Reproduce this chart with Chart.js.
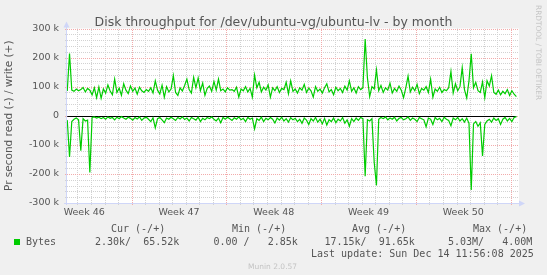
<!DOCTYPE html>
<html>
<head>
<meta charset="utf-8">
<script src="https://cdn.jsdelivr.net/npm/chart.js@4/dist/chart.umd.min.js"></script>
<style>
  html, body { margin: 0; padding: 0; background: #f0f0f0; }
  #wrap { position: relative; width: 547px; height: 275px; overflow: hidden; }
  canvas { position: absolute; left: 0; top: 0; }
  .t { position: absolute; white-space: pre; font-family: "DejaVu Sans Mono", monospace; font-size: 10px; line-height: 12px; color: #555; }
  .wm { position: absolute; white-space: pre; font-family: "DejaVu Sans", sans-serif; color: #c4c4c4; }
  #title { position: absolute; left: 0; top: 13.5px; width: 547px; text-align: center; font-family: "DejaVu Sans", sans-serif; font-size: 12.5px; line-height: 15px; color: #555; }
  #swatch { position: absolute; left: 14px; top: 239px; width: 6px; height: 6px; background: #00cc00; }
</style>
</head>
<body>
<div id="wrap">
  <canvas id="chart" width="547" height="275"></canvas>
  <div id="title">Disk throughput for /dev/ubuntu-vg/ubuntu-lv - by month</div>
  <div class="wm" style="left:543px; top:5px; font-size:7.4px; line-height:9px; transform:rotate(90deg); transform-origin:0 0;">RRDTOOL / TOBI OETIKER</div>
  <div class="t" style="left:111px; top:223px;">Cur (-/+)</div>
  <div class="t" style="left:232px; top:223px;">Min (-/+)</div>
  <div class="t" style="left:352px; top:223px;">Avg (-/+)</div>
  <div class="t" style="left:473px; top:223px;">Max (-/+)</div>
  <div id="swatch"></div>
  <div class="t" style="left:26px; top:236px;">Bytes</div>
  <div class="t" style="left:95px; top:236px;">2.30k/  65.52k</div>
  <div class="t" style="left:213.5px; top:236px;">0.00 /   2.85k</div>
  <div class="t" style="left:324.5px; top:236px;">17.15k/  91.65k</div>
  <div class="t" style="left:448px; top:236px;">5.03M/   4.00M</div>
  <div class="t" style="left:311px; top:248px;">Last update: Sun Dec 14 11:56:08 2025</div>
  <div class="wm" style="left:248px; top:262px; font-size:7.5px; line-height:9px;">Munin 2.0.57</div>
</div>
<script>
// Time axis is in days, day 0 = Sun Nov 16 00:00 (start of week 47)
const xMin = -4.77;
const xMax = 28.61;
const sampleStart = -4.75;   // first 4-hour sample
const sampleStep = 1 / 6;    // 4 hours

const weekLabels = ['Week 46', 'Week 47', 'Week 48', 'Week 49', 'Week 50'];
const weekCenters = [-3.5, 3.5, 10.5, 17.5, 24.5];

// write bytes per second, in k (positive side)
const writeK = [
  85, 214, 88, 84, 92, 86, 90, 97, 82, 94,
  88, 72, 96, 62, 99, 60, 92, 78, 106, 85,
  72, 126, 80, 95, 70, 110, 88, 76, 102, 84,
  95, 74, 98, 86, 80, 90, 84, 96, 78, 120,
  88, 75, 105, 64, 100, 82, 92, 138, 80, 70,
  96, 85, 104, 126, 90, 78, 132, 96, 130, 86,
  112, 70, 94, 102, 84, 118, 88, 126, 86, 92,
  82, 96, 88, 90, 84, 98, 64, 92, 86, 100,
  82, 94, 64, 140, 96, 115, 82, 98, 88, 106,
  64, 96, 86, 100, 80, 94, 90, 115, 76, 120,
  84, 92, 78, 96, 88, 108, 80, 95, 86, 64,
  100, 84, 92, 78, 96, 110, 82, 90, 72, 98,
  86, 94, 80, 102, 88, 120, 84, 96, 78, 100,
  90, 96, 264, 130, 66, 100, 92, 158, 86, 104,
  80, 96, 88, 112, 78, 94, 84, 102, 88, 62,
  96, 136, 82, 98, 86, 108, 76, 94, 88, 100,
  80, 126, 64, 92, 84, 98, 80, 90, 86, 96,
  152, 78, 110, 86, 100, 165, 90, 61, 120, 213,
  96, 115, 86, 80, 116, 62, 120, 102, 138, 80,
  74, 88, 72, 84, 76, 90, 70, 86, 74, 66
];

// read bytes per second, in k (drawn negative)
const readK = [
  -15, -142, -20, -12, -8, -14, -120, -10, -18, -15,
  -195, -6, -4, -8, -5, -10, -6, -12, -4, -9,
  -6, -14, -5, -10, -3, -8, -12, -5, -9, -15,
  -6, -11, -4, -16, -8, -5, -12, -20, -7, -42,
  -10, -6, -14, -24, -8, -12, -5, -10, -16, -6,
  -11, -4, -13, -8, -18, -6, -10, -15, -5, -20,
  -9, -14, -6, -10, -4, -12, -18, -8, -24, -6,
  -12, -5, -10, -16, -7, -12, -4, -14, -9, -20,
  -6, -12, -8, -45, -10, -16, -5, -20, -9, -14,
  -6, -12, -25, -8, -15, -5, -18, -10, -22, -7,
  -14, -9, -20, -12, -26, -8, -15, -30, -10, -18,
  -6, -22, -12, -28, -9, -32, -14, -20, -8, -24,
  -12, -18, -6, -26, -14, -36, -10, -20, -8, -16,
  -6, -10, -208, -14, -18, -10, -160, -240, -12, -6,
  -10, -4, -14, -8, -12, -5, -18, -9, -6, -14,
  -10, -4, -16, -8, -12, -20, -6, -10, -14, -38,
  -8, -12, -30, -6, -14, -9, -20, -5, -12, -16,
  -34, -8, -14, -6, -18, -10, -22, -8, -26, -255,
  -28, -20, -36, -24, -138, -30, -18, -12, -22, -8,
  -16, -10, -30, -12, -6, -18, -9, -20, -6, -3
];

const GREEN = '#00cc00';
const MINOR_GRID = '#d2d2d2';
const MAJOR_GRID = '#f2abab';
const AXIS = '#cfd6f8';
const FONT_COLOR = '#555';

// one grid line per day (red every week), one per 20 k (red every 100 k)
const dayTicks = [];
for (let d = Math.ceil(xMin); d <= Math.floor(xMax); d++) dayTicks.push(d);
const valueTicks = [];
for (let v = -300; v <= 300; v += 20) valueTicks.push(v);

const toPoints = arr => arr.map((v, i) => ({ x: sampleStart + i * sampleStep, y: v }));

// rrdtool look: white canvas, dotted grid, zero rule, axes with arrows
const muninDecor = {
  id: 'muninDecor',
  beforeDraw(chart) {
    const { ctx, chartArea: a } = chart;
    ctx.save();
    ctx.fillStyle = '#ffffff';
    ctx.fillRect(a.left, a.top, a.right - a.left, a.bottom - a.top);
    ctx.restore();
  },
  beforeDatasetsDraw(chart) {
    const { ctx, chartArea: a } = chart;
    const xs = chart.scales.x, ys = chart.scales.y;
    ctx.save();
    ctx.lineWidth = 1;
    ctx.setLineDash([1, 1]);
    // minor first, major on top
    [false, true].forEach(major => {
      dayTicks.filter(d => (d % 7 === 0) === major).forEach(d => {
        const px = Math.round(xs.getPixelForValue(d)) + 0.5;
        ctx.strokeStyle = major ? MAJOR_GRID : MINOR_GRID;
        ctx.beginPath();
        ctx.moveTo(px, a.bottom + 2);
        ctx.lineTo(px, a.top);
        ctx.stroke();
      });
      valueTicks.filter(v => (v % 100 === 0) === major).forEach(v => {
        const py = Math.round(ys.getPixelForValue(v)) + 0.5;
        ctx.strokeStyle = major ? MAJOR_GRID : MINOR_GRID;
        ctx.beginPath();
        ctx.moveTo(a.left - 2, py);
        ctx.lineTo(a.right, py);
        ctx.stroke();
      });
    });
    ctx.setLineDash([]);
    // zero rule over the time span of the samples
    const y0 = Math.round(ys.getPixelForValue(0)) + 0.5;
    ctx.strokeStyle = '#000';
    ctx.beginPath();
    ctx.moveTo(xs.getPixelForValue(sampleStart), y0);
    ctx.lineTo(xs.getPixelForValue(sampleStart + (writeK.length - 1) * sampleStep), y0);
    ctx.stroke();
    ctx.restore();
  },
  afterDraw(chart) {
    const { ctx, chartArea: a } = chart;
    const xl = Math.round(a.left) - 0.5;
    const yb = Math.round(a.bottom) + 0.5;
    ctx.save();
    ctx.strokeStyle = AXIS;
    ctx.fillStyle = AXIS;
    ctx.lineWidth = 1;
    ctx.beginPath();
    ctx.moveTo(xl, a.bottom + 2);
    ctx.lineTo(xl, a.top - 2);
    ctx.moveTo(a.left - 3, yb);
    ctx.lineTo(a.right + 1, yb);
    ctx.stroke();
    // arrow heads
    ctx.beginPath();
    ctx.moveTo(xl - 3, a.top - 1);
    ctx.lineTo(xl + 3, a.top - 1);
    ctx.lineTo(xl, a.top - 7);
    ctx.closePath();
    ctx.fill();
    ctx.beginPath();
    ctx.moveTo(a.right, yb - 3);
    ctx.lineTo(a.right, yb + 3);
    ctx.lineTo(a.right + 6, yb);
    ctx.closePath();
    ctx.fill();
    ctx.restore();
  }
};

new Chart(document.getElementById('chart'), {
  type: 'line',
  data: {
    datasets: [
      {
        label: 'write',
        data: toPoints(writeK),
        borderColor: GREEN,
        borderWidth: 1.2,
        pointRadius: 0,
        tension: 0
      },
      {
        label: 'read',
        data: toPoints(readK),
        borderColor: GREEN,
        borderWidth: 1.2,
        pointRadius: 0,
        tension: 0
      }
    ]
  },
  options: {
    responsive: false,
    devicePixelRatio: 1,
    animation: false,
    events: [],
    layout: { padding: { left: 0, right: 28, top: 28.5, bottom: 0 } },
    scales: {
      x: {
        type: 'linear',
        min: xMin,
        max: xMax,
        afterBuildTicks: axis => { axis.ticks = dayTicks.map(v => ({ value: v })); },
        afterFit: axis => { axis.height = 0; },
        ticks: { display: false },
        border: { display: false },
        grid: { display: false, drawTicks: false }
      },
      x2: {
        type: 'linear',
        position: 'bottom',
        min: xMin,
        max: xMax,
        afterBuildTicks: axis => { axis.ticks = weekCenters.map(v => ({ value: v })); },
        afterFit: axis => { axis.height = 72; },
        grid: { display: false, drawTicks: false },
        border: { display: false },
        ticks: {
          autoSkip: false,
          maxRotation: 0,
          padding: 4,
          color: FONT_COLOR,
          font: { family: 'DejaVu Sans', size: 9.5 },
          callback: (value, index) => weekLabels[index]
        }
      },
      y: {
        min: -300,
        max: 300,
        afterFit: axis => { axis.width = 67; },
        border: { display: false },
        grid: { display: false, drawTicks: false },
        ticks: {
          stepSize: 20,
          autoSkip: false,
          padding: 8,
          color: FONT_COLOR,
          font: { family: 'DejaVu Sans', size: 9.5 },
          callback: v => (v % 100 !== 0 ? '' : v === 0 ? '0' : v + ' k')
        },
        title: {
          display: true,
          text: 'Pr second read (-) / write (+)',
          color: FONT_COLOR,
          font: { family: 'DejaVu Sans', size: 10.5 },
          padding: { top: 3, bottom: 0 }
        }
      }
    },
    plugins: {
      legend: { display: false },
      tooltip: { enabled: false },
      title: { display: false }
    }
  },
  plugins: [muninDecor]
});
</script>
</body>
</html>
